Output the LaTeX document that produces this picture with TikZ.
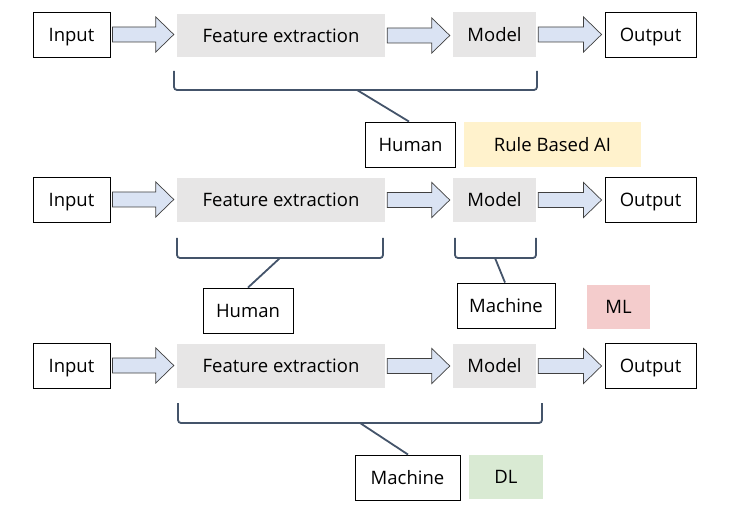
\documentclass[tikz,border=0pt]{standalone}
\usepackage{fontspec}
\setmainfont{Open Sans}
\usetikzlibrary{calc}
\definecolor{boxgray}{HTML}{E7E6E6}
\definecolor{arrowfill}{HTML}{DAE3F3}
\definecolor{arrowline}{HTML}{404040}
\definecolor{brline}{HTML}{44546A}
\definecolor{rulefill}{HTML}{FFF2CC}
\definecolor{mlfill}{HTML}{F4CCCC}
\definecolor{dlfill}{HTML}{D9EAD3}
\tikzset{
  lbl/.style={inner sep=0pt, text height=13.2pt, text depth=0pt, font=\fontsize{18.5}{22}\selectfont},
  wbox/.style={lbl, draw=black, line width=0.9pt, fill=white},
  gbox/.style={lbl, fill=boxgray},
  cbox/.style={lbl},
  barrowstyle/.style={draw=arrowline, line width=0.7pt, fill=arrowfill, line join=miter},
  bracketstyle/.style={draw=brline, line width=1.8pt, rounded corners=3pt},
  stemstyle/.style={draw=brline, line width=1.8pt},
}
\newcommand\blockarrow[2]{%
  \draw[barrowstyle] let \p1=($(#1.east)+(2,0)$), \p2=($(#2.west)+(-3,0)$) in
    (\x1,\y1+7.5) -- (\x2-18,\y1+7.5) -- (\x2-18,\y1+17.5) -- (\x2,\y1)
    -- (\x2-18,\y1-17.5) -- (\x2-18,\y1-7.5) -- (\x1,\y1-7.5) -- cycle;}
\begin{document}
\begin{tikzpicture}[x=1pt,y=-1pt]
\useasboundingbox (0,0) rectangle (738,510);
% row 1
\node[wbox, minimum width=77pt, minimum height=45pt] (in1) at (71.5,34.5) {Input};
\node[gbox, minimum width=208pt, minimum height=43pt] (fe1) at (281,35.5) {Feature extraction};
\node[gbox, minimum width=83pt, minimum height=45pt] (m1) at (494.5,34.5) {Model};
\node[wbox, minimum width=91pt, minimum height=45pt] (out1) at (650.5,34.5) {Output};
% row 2
\node[wbox, minimum width=77pt, minimum height=45pt] (in2) at (71.5,199.5) {Input};
\node[gbox, minimum width=208pt, minimum height=44pt] (fe2) at (281,200) {Feature extraction};
\node[gbox, minimum width=83pt, minimum height=44pt] (m2) at (494.5,200) {Model};
\node[wbox, minimum width=91pt, minimum height=45pt] (out2) at (650.5,199.5) {Output};
% row 3
\node[wbox, minimum width=77pt, minimum height=45pt] (in3) at (71.5,365.5) {Input};
\node[gbox, minimum width=208pt, minimum height=44pt] (fe3) at (281,366) {Feature extraction};
\node[gbox, minimum width=83pt, minimum height=44pt] (m3) at (494.5,366) {Model};
\node[wbox, minimum width=91pt, minimum height=45pt] (out3) at (650.5,365.5) {Output};
% arrows
\foreach \r in {1,2,3}{
  \blockarrow{in\r}{fe\r}
  \blockarrow{fe\r}{m\r}
  \blockarrow{m\r}{out\r}
}
% labels
\node[wbox, minimum width=90pt, minimum height=45pt] (hum1) at (410.5,144.5) {Human};
\node[cbox, fill=rulefill, minimum width=177pt, minimum height=45pt] (rule) at (552.5,144.5) {Rule Based AI};
\node[wbox, minimum width=90pt, minimum height=45pt] (hum2) at (248,310.5) {Human};
\node[wbox, minimum width=98pt, minimum height=45pt] (mac2) at (506,305.5) {Machine};
\node[cbox, fill=mlfill, minimum width=63pt, minimum height=44pt] (ml) at (618.5,307) {ML};
\node[wbox, minimum width=105pt, minimum height=45pt] (mac3) at (407.5,477.5) {Machine};
\node[cbox, fill=dlfill, minimum width=74pt, minimum height=44pt] (dl) at (506,477) {DL};
% brackets
\draw[bracketstyle] (174,71) -- (174,90) -- (537,90) -- (537,71);
\coordinate (b1) at (357,90);
\draw[stemstyle] (b1) -- ($(hum1.north)+(-1.5,0)$);
\draw[bracketstyle] (177,238) -- (177,258) -- (383,258) -- (383,238);
\coordinate (b2) at (280,258);
\draw[stemstyle] (b2) -- ($(hum2.north)+(0,0)$);
\draw[bracketstyle] (455,238) -- (455,258) -- (536,258) -- (536,238);
\coordinate (b3) at (495,258);
\draw[stemstyle] (b3) -- ($(mac2.north)+(-1,0)$);
\draw[bracketstyle] (178,403) -- (178,423) -- (542,423) -- (542,403);
\coordinate (b4) at (360,423);
\draw[stemstyle] (b4) -- ($(mac3.north)+(0.5,0)$);
\end{tikzpicture}
\end{document}
